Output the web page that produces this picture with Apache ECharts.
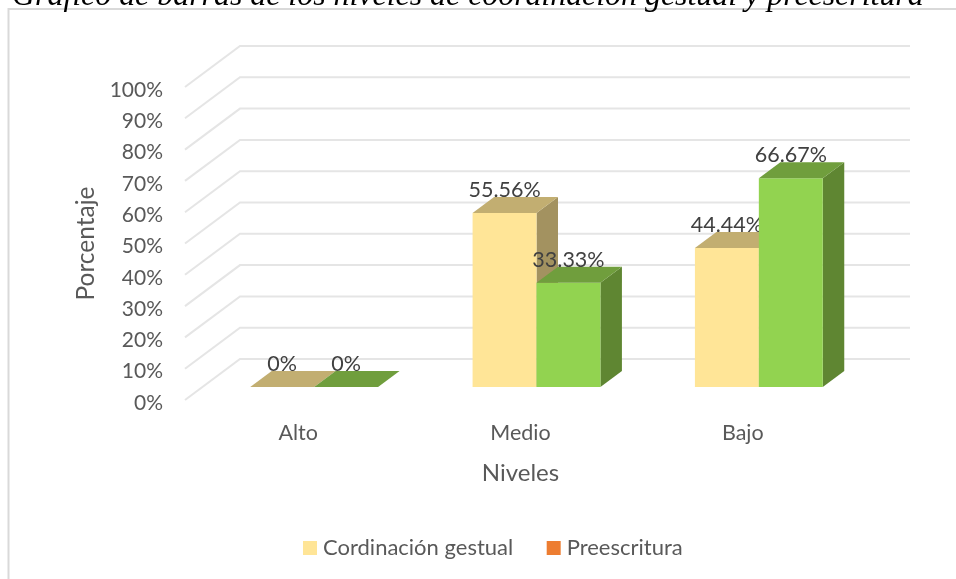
<!DOCTYPE html>
<html><head><meta charset="utf-8">
<style>html,body{margin:0;padding:0;background:#fff}#c{width:956px;height:579px}</style>
<script src="https://cdn.jsdelivr.net/npm/echarts@6/dist/echarts.min.js"></script>
</head><body><div id="c"></div>
<script>
const categories = ['Alto', 'Medio', 'Bajo'];
const gestual = [0, 55.56, 44.44];
const preescritura = [0, 33.33, 66.67];
const gridTicks = [0, 10, 20, 30, 40, 50, 60, 70, 80, 90, 100];
const seriesNames = ['Cordinación gestual', 'Preescritura'];
const titleText = 'Gráfico de barras de los niveles de coordinación gestual y preescritura';

const FONT = 'Lato';
const wallDX = 55, wallDY = -41, wallRight = 910;
const barFrontDX = 16, barFrontDY = -13;
const barDX = 21.5, barDY = -16;
const palette = [
  { front: '#FFE597', top: '#C2AE71', side: '#A39260' },
  { front: '#92D350', top: '#709E3D', side: '#5F8632' }
];

function barRender(si) {
  return function (params, api) {
    const cat = api.value(0), val = api.value(1);
    const band = api.size([1, 0])[0];
    const w = band * 0.2875;
    const c0 = api.coord([cat, 0]), c1 = api.coord([cat, val]);
    const x0 = c0[0] + barFrontDX + (si === 0 ? -w : 0), x1 = x0 + w;
    const yb = c0[1] + barFrontDY, yt = c1[1] + barFrontDY;
    const col = palette[si];
    const kids = [];
    if (val > 0) {
      kids.push({ type: 'polygon', shape: { points: [[x1, yt], [x1 + barDX, yt + barDY], [x1 + barDX, yb + barDY], [x1, yb]] }, style: { fill: col.side } });
      kids.push({ type: 'rect', shape: { x: x0, y: yt, width: w, height: yb - yt }, style: { fill: col.front } });
    }
    kids.push({ type: 'polygon', shape: { points: [[x0, yt], [x1, yt], [x1 + barDX, yt + barDY], [x0 + barDX, yt + barDY]] }, style: { fill: col.top } });
    kids.push({ type: 'text', z2: 10, style: { x: (x0 + x1) / 2, y: yt - 23, text: val + '%', font: '21.5px ' + FONT, fill: '#404040', align: 'center', verticalAlign: 'middle' } });
    return { type: 'group', children: kids };
  };
}

const chart = echarts.init(document.getElementById('c'), null, { renderer: 'canvas' });
chart.setOption({
  animation: false,
  backgroundColor: '#fff',
  title: {
    text: titleText, left: 7, top: -24,
    textStyle: { fontFamily: 'Liberation Serif', fontStyle: 'italic', fontWeight: 'normal', fontSize: 31.9, color: '#000' }
  },
  graphic: [{ type: 'polyline', z: -10, shape: { points: [[8.5, 640], [8.5, 9], [970, 9]] }, style: { fill: 'none', stroke: '#d9d9d9', lineWidth: 2 } }],
  legend: {
    data: seriesNames, left: 298, top: 532, icon: 'rect', itemWidth: 14, itemHeight: 14, itemGap: 33.5,
    textStyle: { fontFamily: FONT, fontSize: 22, color: '#595959', padding: [0, 0, 0, 1] }
  },
  grid: { left: 187, top: 87, width: 667, height: 313 },
  xAxis: {
    type: 'category', data: categories,
    name: 'Niveles', nameLocation: 'middle', nameGap: 61,
    nameTextStyle: { fontFamily: FONT, fontSize: 24, color: '#595959' },
    axisLine: { show: false }, axisTick: { show: false },
    axisLabel: { fontFamily: FONT, fontSize: 21.5, color: '#595959', margin: 22 }
  },
  yAxis: {
    type: 'value', min: 0, max: 100, interval: 10,
    name: 'Porcentaje', nameLocation: 'middle', nameGap: 87, nameRotate: 90,
    nameTextStyle: { fontFamily: FONT, fontSize: 24.5, color: '#595959' },
    axisLine: { show: false }, axisTick: { show: false }, splitLine: { show: false },
    axisLabel: { formatter: '{value}%', fontFamily: FONT, fontSize: 21, color: '#595959', margin: 24, verticalAlign: 'top', lineHeight: 6 }
  },
  series: [
    {
      name: 'wall', type: 'custom', z: 1, silent: true, legendHoverLink: false,
      data: gridTicks.map(t => [0, t]), encode: { x: 0, y: 1 },
      renderItem(params, api) {
        const y = api.coord([0, api.value(1)])[1];
        const x = params.coordSys.x - 2;
        return { type: 'polyline', shape: { points: [[x, y], [x + wallDX, y + wallDY], [wallRight, y + wallDY]] }, style: { fill: null, stroke: '#e5e5e5', lineWidth: 2 } };
      }
    },
    { name: seriesNames[0], type: 'custom', z: 2, itemStyle: { color: '#FFE597' }, data: gestual.map((v, i) => [i, v]), encode: { x: 0, y: 1 }, renderItem: barRender(0) },
    { name: seriesNames[1], type: 'custom', z: 3, itemStyle: { color: '#ED7D31' }, data: preescritura.map((v, i) => [i, v]), encode: { x: 0, y: 1 }, renderItem: barRender(1) }
  ]
});
</script></body></html>
